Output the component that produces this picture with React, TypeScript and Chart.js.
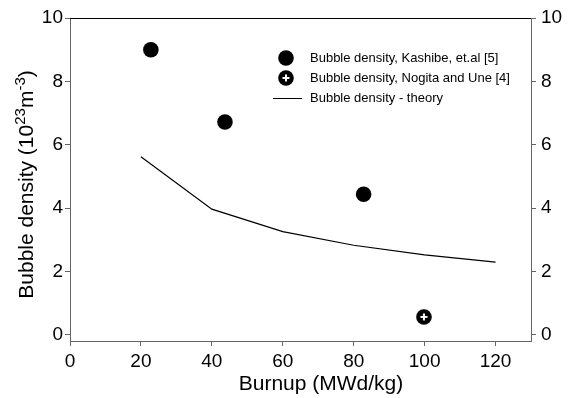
import React, { useEffect, useRef } from "react";
import { Chart, registerables } from "chart.js";

Chart.register(...registerables);

const burnupKashibe = [22.8, 43.7, 82.8];
const densityKashibe = [9.0, 6.72, 4.44];
const burnupNogita = [99.8];
const densityNogita = [0.57];
const burnupTheory = [20, 40, 60, 80, 100, 120];
const densityTheory = [5.62, 3.97, 3.26, 2.83, 2.53, 2.3];
const xTickValues = [0, 20, 40, 60, 80, 100, 120];
const yTickValues = [0, 2, 4, 6, 8, 10];
const seriesLabels = [
  "Bubble density, Kashibe, et.al [5]",
  "Bubble density, Nogita and Une [4]",
  "Bubble density - theory",
];
const xTitle = "Burnup (MWd/kg)";
const yTitleParts = ["Bubble density (10", "23", "m", "-3", ")"];

const FONT = "'Liberation Sans', Arial, Helvetica, sans-serif";

function makePlusMarker(size: number): HTMLCanvasElement {
  const c = document.createElement("canvas");
  c.width = size;
  c.height = size;
  const g = c.getContext("2d")!;
  const r = size / 2;
  g.fillStyle = "#000";
  g.beginPath();
  g.arc(r, r, r - 0.2, 0, Math.PI * 2);
  g.fill();
  g.strokeStyle = "#fff";
  g.lineWidth = 2;
  g.beginPath();
  g.moveTo(r - 3.5, r);
  g.lineTo(r + 3.5, r);
  g.moveTo(r, r - 3.5);
  g.lineTo(r, r + 3.5);
  g.stroke();
  return c;
}

export default function App() {
  const ref = useRef<HTMLCanvasElement | null>(null);

  useEffect(() => {
    if (!ref.current) return;
    const plusMarker = makePlusMarker(16);

    const decorPlugin = {
      id: "decor",
      afterDraw(chart: any) {
        const { ctx, chartArea } = chart;
        ctx.save();
        // top frame line
        ctx.strokeStyle = "#000";
        ctx.lineWidth = 1.2;
        ctx.beginPath();
        ctx.moveTo(chartArea.left, chartArea.top + 0.5);
        ctx.lineTo(chartArea.right, chartArea.top + 0.5);
        ctx.stroke();

        // x title
        ctx.fillStyle = "#000";
        ctx.font = `21px ${FONT}`;
        ctx.textAlign = "center";
        ctx.textBaseline = "alphabetic";
        ctx.fillText(xTitle, 321, 390);

        // y title with superscripts
        const big = `21px ${FONT}`;
        const small = `15px ${FONT}`;
        const fonts = [big, small, big, small, big];
        const offs = [0, -8.5, 0, -8.5, 0];
        let total = 0;
        const widths = yTitleParts.map((p, i) => {
          ctx.font = fonts[i];
          const w = ctx.measureText(p).width;
          total += w;
          return w;
        });
        ctx.translate(33, 184.5);
        ctx.rotate(-Math.PI / 2);
        ctx.textAlign = "left";
        let x = -total / 2;
        yTitleParts.forEach((p, i) => {
          ctx.font = fonts[i];
          ctx.fillText(p, x, offs[i]);
          x += widths[i];
        });
        ctx.restore();

        // legend
        ctx.save();
        const rows = [58, 78, 98];
        ctx.font = `13px ${FONT}`;
        ctx.textBaseline = "middle";
        ctx.textAlign = "left";
        ctx.fillStyle = "#000";
        ctx.beginPath();
        ctx.arc(286, rows[0], 7.8, 0, Math.PI * 2);
        ctx.fill();
        ctx.drawImage(plusMarker, 286 - 8, rows[1] - 8);
        ctx.strokeStyle = "#000";
        ctx.lineWidth = 1;
        ctx.beginPath();
        ctx.moveTo(273, rows[2] + 0.5);
        ctx.lineTo(302, rows[2] + 0.5);
        ctx.stroke();
        seriesLabels.forEach((s, i) => ctx.fillText(s, 310, rows[i]));
        ctx.restore();
      },
    };

    const axisColor = "#666";
    const tickFont = { family: FONT, size: 19 };

    const chart = new Chart(ref.current, {
      type: "scatter",
      data: {
        datasets: [
          {
            label: seriesLabels[2],
            type: "line",
            data: burnupTheory.map((x, i) => ({ x, y: densityTheory[i] })),
            borderColor: "#000",
            borderWidth: 1.2,
            pointRadius: 0,
            fill: false,
            tension: 0,
          } as any,
          {
            label: seriesLabels[0],
            data: burnupKashibe.map((x, i) => ({ x, y: densityKashibe[i] })),
            backgroundColor: "#000",
            borderWidth: 0,
            pointRadius: 7.8,
          },
          {
            label: seriesLabels[1],
            data: burnupNogita.map((x, i) => ({ x, y: densityNogita[i] })),
            pointStyle: plusMarker as any,
            pointRadius: 8,
          },
        ],
      },
      options: {
        animation: false,
        responsive: false,
        maintainAspectRatio: false,
        layout: { padding: { top: 18, left: 0, right: 0, bottom: 0 } },
        plugins: {
          legend: { display: false },
          tooltip: { enabled: false },
        },
        scales: {
          x: {
            type: "linear",
            position: "bottom",
            min: 0,
            max: 130,
            afterBuildTicks: (s: any) => {
              s.ticks = xTickValues.map((v) => ({ value: v }));
            },
            afterFit: (s: any) => {
              s.height = 57;
            },
            ticks: { color: "#000", font: tickFont, padding: 4, maxRotation: 0 },
            grid: {
              display: true,
              drawOnChartArea: false,
              drawTicks: true,
              tickLength: 5,
              color: axisColor,
            },
            border: { display: true, color: axisColor, width: 1 },
          },
          y: {
            type: "linear",
            position: "left",
            min: -0.19,
            max: 10,
            afterBuildTicks: (s: any) => {
              s.ticks = yTickValues.map((v) => ({ value: v }));
            },
            afterFit: (s: any) => {
              s.width = 70;
            },
            ticks: { color: "#000", font: tickFont, padding: 2 },
            grid: {
              display: true,
              drawOnChartArea: false,
              drawTicks: true,
              tickLength: 5,
              color: axisColor,
            },
            border: { display: true, color: axisColor, width: 1 },
          },
          y2: {
            type: "linear",
            position: "right",
            min: -0.19,
            max: 10,
            afterBuildTicks: (s: any) => {
              s.ticks = yTickValues.map((v) => ({ value: v }));
            },
            afterFit: (s: any) => {
              s.width = 47;
            },
            ticks: { color: "#000", font: tickFont, padding: 5 },
            grid: {
              display: true,
              drawOnChartArea: false,
              drawTicks: true,
              tickLength: 5,
              color: axisColor,
            },
            border: { display: true, color: axisColor, width: 1 },
          },
        },
      },
      plugins: [decorPlugin],
    });

    return () => chart.destroy();
  }, []);

  return (
    <div style={{ position: "fixed", left: 0, top: 0, width: 578, height: 398, background: "#fff" }}>
      <canvas ref={ref} width={578} height={398} style={{ display: "block" }} />
    </div>
  );
}
